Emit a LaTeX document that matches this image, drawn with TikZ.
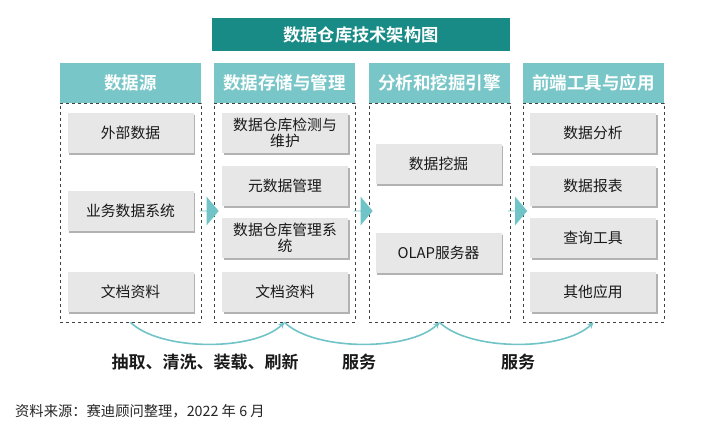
\documentclass[tikz,border=0pt]{standalone}
\usepackage{fontspec}
\setmainfont{Noto Sans CJK SC}[BoldFont={Noto Sans CJK SC Bold}]
\usetikzlibrary{shadows,shapes.arrows,arrows.meta}
\definecolor{darkteal}{RGB}{24,139,134}
\definecolor{lightteal}{RGB}{121,198,200}
\definecolor{boxgray}{RGB}{231,231,231}
\definecolor{flowteal}{RGB}{112,196,199}
\begin{document}
\begin{tikzpicture}[x=1pt,y=-1pt,
  titlebar/.style={fill=darkteal,text=white,font=\bfseries\fontsize{17.3}{19}\selectfont,minimum width=298pt,minimum height=33pt,inner sep=0},
  hdr/.style={fill=lightteal,text=white,font=\bfseries\fontsize{17.5}{20}\selectfont,minimum width=141pt,minimum height=40pt,inner sep=0},
  frame/.style={draw=black!75,dashed,line width=0.7pt,minimum width=141pt,minimum height=219pt,inner sep=0},
  item/.style={fill=boxgray,text=black!90,font=\fontsize{14.8}{16.5}\selectfont,minimum width=126pt,minimum height=40pt,inner sep=1pt,align=center,text width=122pt,
    drop shadow={shadow xshift=1.8pt,shadow yshift=-2pt,fill=black,opacity=0.3}},
  blockarrow/.style={single arrow,fill=flowteal,minimum height=19pt,minimum width=29pt,single arrow head extend=7pt,inner sep=0,single arrow tip angle=100},
  flow/.style={draw=flowteal,line width=1.6pt,-{Stealth[length=6pt,width=6pt]}},
  lbl/.style={font=\bfseries\fontsize{17}{19}\selectfont,text=black!90,inner sep=0},
  src/.style={font=\fontsize{14.3}{16}\selectfont,text=black!85,inner sep=0,anchor=west}
]
\useasboundingbox (0,0) rectangle (718,431);
\fill[white] (0,0) rectangle (718,431);

\node[titlebar] (title) at (361,34.5) {数据仓库技术架构图};

% frames
\node[frame] (f1) at (130.5,212.5) {};
\node[frame] (f2) at (284.5,212.5) {};
\node[frame] (f3) at (439.5,212.5) {};
\node[frame] (f4) at (593.5,212.5) {};

% headers
\node[hdr] (h1) at (130.5,83) {数据源};
\node[hdr] (h2) at (284.5,83) {数据存储与管理};
\node[hdr] (h3) at (439.5,83) {分析和挖掘引擎};
\node[hdr] (h4) at (593.5,83) {前端工具与应用};

% column 1
\node[item] (a1) at (130.5,132.5) {外部数据};
\node[item] (a2) at (130.5,211) {业务数据系统};
\node[item] (a3) at (130.5,291.5) {文档资料};
% column 2
\node[item] (b1) at (285,133) {数据仓库检测与\\维护};
\node[item] (b2) at (285,185.5) {元数据管理};
\node[item] (b3) at (285,238) {数据仓库管理系\\统};
\node[item] (b4) at (285,291.5) {文档资料};
% column 3
\node[item] (c1) at (438.5,164) {数据挖掘};
\node[item] (c2) at (438.5,252.5) {OLAP服务器};
% column 4
\node[item] (d1) at (593,132.5) {数据分析};
\node[item] (d2) at (593,185.5) {数据报表};
\node[item] (d3) at (593,238) {查询工具};
\node[item] (d4) at (593,291.5) {其他应用};

% block arrows
\node[blockarrow] (ar1) at (209,211) {};
\node[blockarrow] (ar2) at (363,211) {};
\node[blockarrow] (ar3) at (517.5,211) {};

% curved flows
\draw[flow] (f1.south) .. controls +(30,29) and +(-30,29) .. (f2.south);
\draw[flow] (f2.south) .. controls +(30,29) and +(-30,29) .. (f3.south);
\draw[flow] (f3.south) .. controls +(30,29) and +(-30,29) .. (f4.south);

% labels
\node[lbl] (l1) at (205,362) {抽取、清洗、装载、刷新};
\node[lbl] (l2) at (359,362) {服务};
\node[lbl] (l3) at (518,362) {服务};

\node[src] (source) at (15,411) {资料来源：赛迪顾问整理，2022 年 6 月};
\end{tikzpicture}
\end{document}
